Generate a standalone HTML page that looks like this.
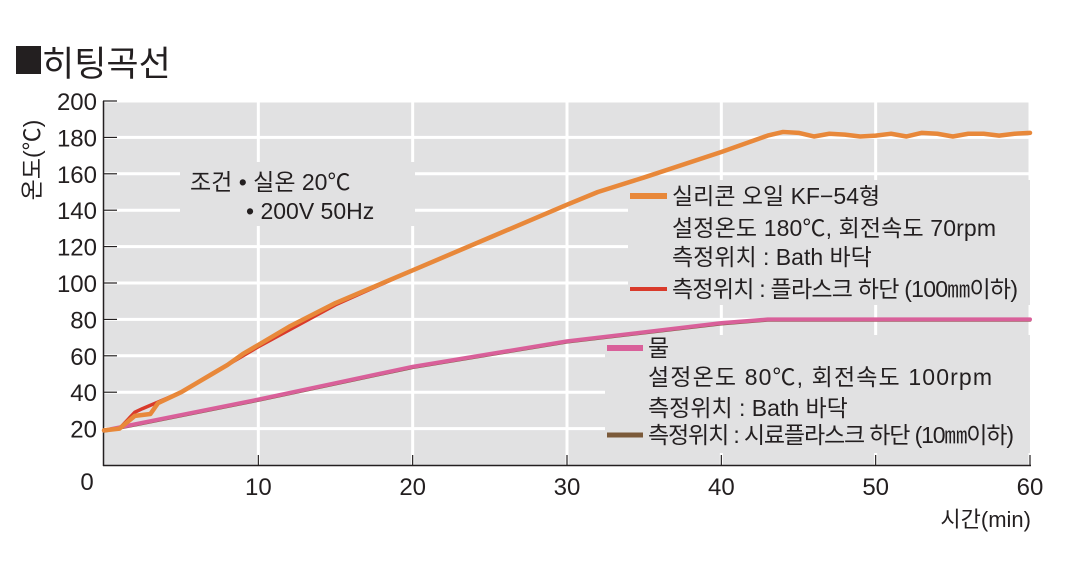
<!DOCTYPE html>
<html><head><meta charset="utf-8">
<style>
body{margin:0;background:#fff;}
svg text{font-family:"Liberation Sans","Noto Sans CJK KR",sans-serif;fill:#231f20;}
</style></head>
<body>
<svg id="chart" width="1080" height="582" viewBox="0 0 1080 582" xmlns="http://www.w3.org/2000/svg">
<rect x="16" y="46" width="25" height="28" fill="#231f20"/>
<text x="42" y="76" font-size="35">히팅곡선</text>
<rect x="104" y="101" width="926" height="364" fill="#e1e1e2"/>
<g id="grid"></g>
<g id="ticks"></g>
<line x1="103.5" y1="101" x2="103.5" y2="466" stroke="#231f20" stroke-width="1.5"/>
<line x1="103" y1="465.5" x2="1031" y2="465.5" stroke="#231f20" stroke-width="1.5"/>
<text x="40" y="160" font-size="23" transform="rotate(-90 40 160)" text-anchor="middle">온도(℃)</text>
<text x="1031" y="527" font-size="22" text-anchor="end">시간(min)</text>
<rect x="180" y="162" width="235" height="64" fill="#e1e1e2"/>
<text x="190" y="190" font-size="23">조건 • 실온 20℃</text>
<text x="246" y="219" font-size="23">• 200V 50Hz</text>
<rect x="628" y="180" width="402" height="125" fill="#e1e1e2"/>
<rect x="605" y="335" width="425" height="118" fill="#e1e1e2"/>
<g id="series"></g>
<g>
<line x1="630" y1="196" x2="667" y2="196" stroke="#e8883a" stroke-width="6"/>
<text x="672" y="204" font-size="23">실리콘 오일 KF−54형</text>
<text x="672" y="236" font-size="23" textLength="324">설정온도 180℃, 회전속도 70rpm</text>
<text x="672" y="265" font-size="23">측정위치 : Bath 바닥</text>
<line x1="630" y1="289" x2="667" y2="289" stroke="#d93a2b" stroke-width="4"/>
<text x="672" y="297" font-size="23" textLength="346">측정위치 : 플라스크 하단 (100㎜이하)</text>
</g>
<g>
<line x1="607" y1="348" x2="643" y2="348" stroke="#d9609a" stroke-width="6"/>
<text x="648" y="356" font-size="23">물</text>
<text x="648" y="385" font-size="23" textLength="344">설정온도 80℃,  회전속도 100rpm</text>
<text x="648" y="416" font-size="23">측정위치 : Bath 바닥</text>
<line x1="607" y1="435" x2="643" y2="435" stroke="#7b5a3a" stroke-width="5"/>
<text x="648" y="443" font-size="23" textLength="366">측정위치 : 시료플라스크 하단 (10㎜이하)</text>
</g>
</svg>
<script>
const yTicks=[0,20,40,60,80,100,120,140,160,180,200];
const xTicks=[0,10,20,30,40,50,60];
const oilT=[0,1,2,3,3.5,5,7,8,9,10,12,15,20,25,30,32,35,40,43,44,45,46,47,48,49,50,51,52,53,54,55,56,57,58,59,60];
const oilV=[19,20,27,28,34,40,50,55,61,66,76,89,107,125,143,150,158,172,181,183,182.5,180.5,182,181.5,180.5,181,182,180.5,182.5,182,180.5,182,182,181,182,182.5];
const flaskT=[0,1,2,2.5,5,10,15,20,25,30,32,35,40,43,44];
const flaskV=[19,20,29,31,40,65,88,107,125,143,150,158,172,181,183];
const waterT=[0,10,20,30,40,43,60];
const waterV=[19,36,54,68,78,80,80];
const wflaskT=[0,10,20,30,40,43,60];
const wflaskV=[18.5,35.5,53.5,67.5,77.5,79.5,79.5];
const NS='http://www.w3.org/2000/svg';
const X=t=>104+t*(1030-104)/60;
const Y=v=>465-v*(364/200);
const grid=document.getElementById('grid'),ticks=document.getElementById('ticks'),series=document.getElementById('series');
function mk(tag,attrs,parent){const e=document.createElementNS(NS,tag);for(const k in attrs)e.setAttribute(k,attrs[k]);parent.appendChild(e);return e;}
yTicks.forEach(v=>{
 if(v>0){const g=mk('line',{x1:104,x2:1030,y1:Y(v),y2:Y(v),stroke:'#fff','stroke-width':3},grid);
 
 
 const tk=mk('line',{x1:103,x2:117,y1:Y(v),y2:Y(v),stroke:'#231f20','stroke-width':1.2},ticks);
 
 }
 const t=mk('text',{x:97,y:Y(v)+9,'font-size':24,'text-anchor':'end'},ticks);
 t.textContent=v===0?'':v;
 
 
});
const z=mk('text',{x:87,y:490,'font-size':24,'text-anchor':'middle'},ticks);
z.textContent='0';


xTicks.forEach(t=>{
 if(t>0){const g=mk('line',{x1:X(t),x2:X(t),y1:101,y2:465,stroke:'#fff','stroke-width':3},grid);
 
 
 const tk=mk('line',{x1:X(t),x2:X(t),y1:455,y2:466,stroke:'#231f20','stroke-width':1.2},ticks);
 
 
 const l=mk('text',{x:X(t),y:495,'font-size':24,'text-anchor':'middle'},ticks);
 l.textContent=t;
 
 }
});
function line(ts,vs,color,w,name){
 const p=mk('polyline',{points:ts.map((t,i)=>X(t)+','+Y(vs[i])).join(' '),fill:'none',stroke:color,'stroke-width':w,'stroke-linejoin':'round','stroke-linecap':'round'},series);
 
 
}
line(wflaskT,wflaskV,'#7b5a3a',3,'series-water-flask');
line(waterT,waterV,'#d9609a',4,'series-water-bath');
line(flaskT,flaskV,'#d93a2b',3.5,'series-oil-flask');
line(oilT,oilV,'#e8883a',4.5,'series-oil-bath');
</script>
</body></html>
